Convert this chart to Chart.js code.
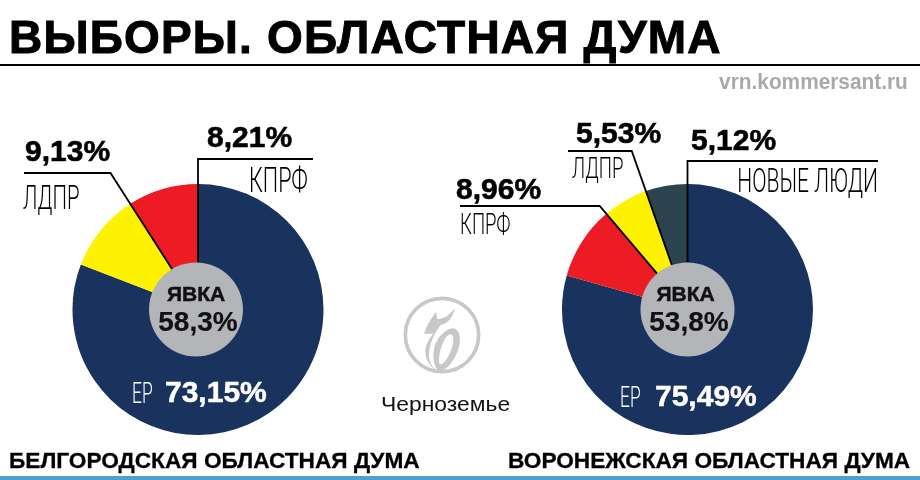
<!DOCTYPE html>
<html lang="ru">
<head>
<meta charset="utf-8">
<script src="https://cdn.jsdelivr.net/npm/chart.js@4"></script>
<style>
  html, body { margin: 0; padding: 0; background: #fff; }
  #page { position: relative; width: 920px; height: 480px; overflow: hidden; font-family: "Liberation Sans", sans-serif; color: #000; }
  #page canvas { position: absolute; top: 0; }
  .txt { position: absolute; white-space: nowrap; line-height: 1; }
  .title { left: 9px; top: 14px; font-size: 46px; font-weight: bold; -webkit-text-stroke: 1px #000; letter-spacing: 1.2px; }
  .rule { position: absolute; left: 0; top: 64px; width: 920px; height: 2px; background: #000; }
  .bar { position: absolute; left: 0; top: 476px; width: 920px; height: 4px; background: #4f9fd0; }
  .site { right: 12px; top: 71px; font-size: 22.5px; font-weight: bold; color: #a7a9ac; transform: scaleX(.926); transform-origin: right top; }
  .val { font-size: 30px; font-weight: bold; -webkit-text-stroke: .6px #000; }
  .name { font-family: "Roboto", sans-serif; font-weight: 300; font-size: 33px; transform-origin: left top; transform: scaleX(.62); }
  .name.r { transform-origin: right top; }
  .name.big { font-size: 35px; }
  .name.wide { font-size: 34px; }
  .name.small { font-size: 30px; }
  .cap { font-size: 22px; font-weight: bold; -webkit-text-stroke: .3px #000; transform-origin: left top; transform: scaleX(1.03); }
  .mid1, .mid2 { transform: translateX(-50%); color: #111; font-weight: bold; }
  .mid1 { font-size: 21px; -webkit-text-stroke: .5px #111; }
  .mid2 { font-size: 28px; -webkit-text-stroke: .2px #111; }
  .main { font-size: 30px; font-weight: bold; -webkit-text-stroke: .5px #fff; color: #fff; }
  .ep { font-family: "Roboto", sans-serif; font-weight: 300; font-size: 30px; color: #fff; transform-origin: left top; transform: scaleX(.58); }
  .logoText { left: 381px; top: 393px; font-size: 21px; color: #111; transform-origin: left top; transform: scaleX(1.09); }
  #logo { position: absolute; left: 400px; top: 295px; }
</style>
</head>
<body>
<div id="page">
  <canvas id="leftPie"></canvas>
  <canvas id="rightPie"></canvas>
  <div class="txt title">ВЫБОРЫ. ОБЛАСТНАЯ ДУМА</div>
  <div class="rule"></div>
  <div class="txt site">vrn.kommersant.ru</div>
  <svg id="logo" width="84" height="84" viewBox="0 0 252 252">
    <circle cx="126" cy="120" r="110" fill="none" stroke="#c6c8c9" stroke-width="11"/>
    <g fill="#c6c8c9">
      <path d="M72 116 C80 92 92 72 108 50 L112 72 C130 72 150 60 165 38 C160 65 142 88 122 90 C98 120 80 165 90 200 C95 216 108 226 124 232 C100 228 80 205 76 175 C74 155 84 135 100 116 Z"/>
      <path fill-rule="evenodd" d="M160 100 C185 104 186 150 165 186 C150 214 128 234 112 224 C96 205 96 160 112 135 C124 116 142 100 160 100 Z M150 118 C130 126 114 175 118 205 C124 218 150 186 158 150 C162 130 160 118 150 118 Z"/>
    </g>
  </svg>
  <div class="txt logoText">Черноземье</div>
  <div class="txt cap" style="left:9px;top:450px">БЕЛГОРОДСКАЯ ОБЛАСТНАЯ ДУМА</div>
  <div class="txt cap" style="left:508px;top:450px">ВОРОНЕЖСКАЯ ОБЛАСТНАЯ ДУМА</div>
  <div class="bar"></div>
</div>
<script>
// значения с картинки
const belgorodParties = ['ЕР', 'ЛДПР', 'КПРФ'];
const belgorodValues = [73.15, 9.13, 8.21];
const belgorodColors = ['#1a325e', '#fff200', '#ed1c24'];
const belgorodTurnout = 58.3;

const voronezhParties = ['ЕР', 'КПРФ', 'ЛДПР', 'НОВЫЕ ЛЮДИ'];
const voronezhValues = [75.49, 8.96, 5.53, 5.12];
const voronezhColors = ['#1a325e', '#ed1c24', '#fff200', '#2b4450'];
const voronezhTurnout = 53.8;

const turnoutLabel = 'ЯВКА';

const fmt = (v, digits) => v.toFixed(digits).replace('.', ',') + '%';

// серый круг в центре и выноски
const centerAndLeaders = {
  id: 'centerAndLeaders',
  afterDatasetsDraw(chart, args, opts) {
    const ctx = chart.ctx;
    const arcs = chart.getDatasetMeta(0).data;
    const cx = arcs[0].x, cy = arcs[0].y;
    ctx.save();
    ctx.strokeStyle = '#000';
    ctx.lineWidth = 1.8;
    ctx.lineJoin = 'miter';
    opts.leaders.forEach(l => {
      const a = arcs[l.arc].startAngle;
      const ux = Math.cos(a), uy = Math.sin(a);
      const t = (l.elbowY - cy) / uy;
      ctx.beginPath();
      ctx.moveTo(cx + ux * opts.holeR, cy + uy * opts.holeR);
      ctx.lineTo(cx + ux * t, l.elbowY);
      ctx.lineTo(l.endX - chart.canvas.offsetLeft, l.elbowY);
      ctx.stroke();
    });
    // круг чуть смещён относительно центра пирога, как в оригинале
    ctx.fillStyle = '#b3b5b8';
    ctx.beginPath();
    ctx.arc(cx + opts.holeShift, cy, opts.holeR, 0, Math.PI * 2);
    ctx.fill();
    ctx.restore();
  }
};

function makePie(id, left, width, parties, values, colors, holeShift, leaders) {
  const canvas = document.getElementById(id);
  canvas.style.left = left + 'px';
  canvas.style.width = width + 'px';
  canvas.style.height = '480px';
  canvas.width = width;
  canvas.height = 480;
  const side = (width - 251) / 2;
  return new Chart(canvas, {
    type: 'doughnut',
    data: {
      labels: parties,
      datasets: [{ data: values, backgroundColor: colors, borderWidth: 0 }]
    },
    plugins: [centerAndLeaders],
    options: {
      responsive: false,
      animation: false,
      devicePixelRatio: 1,
      cutout: 40,
      layout: { padding: { top: 184, bottom: 45, left: side, right: side } },
      plugins: {
        legend: { display: false },
        tooltip: { enabled: false },
        centerAndLeaders: { leaders, holeShift, holeR: 47 }
      }
    }
  });
}

makePie('leftPie', 0, 396, belgorodParties, belgorodValues, belgorodColors, -2, [
  { arc: 0, elbowY: 159, endX: 313 },
  { arc: 2, elbowY: 173, endX: 24 }
]);
makePie('rightPie', 454, 467, voronezhParties, voronezhValues, voronezhColors, 0, [
  { arc: 0, elbowY: 161, endX: 878 },
  { arc: 3, elbowY: 151, endX: 568 },
  { arc: 2, elbowY: 206, endX: 460 }
]);

// подписи
function addText(cls, text, left, top, right) {
  const el = document.createElement('div');
  el.className = 'txt ' + cls;
  el.textContent = text;
  if (right !== undefined) el.style.right = (920 - right) + 'px';
  else el.style.left = left + 'px';
  el.style.top = top + 'px';
  document.getElementById('page').appendChild(el);
}

addText('val', fmt(belgorodValues[2], 2), 207, 122);
addText('name r big', belgorodParties[2], undefined, 163, 308);
addText('val', fmt(belgorodValues[1], 2), 25, 136);
addText('name', belgorodParties[1], 23, 181);
addText('mid1', turnoutLabel, 196, 283);
addText('mid2', fmt(belgorodTurnout, 1), 198, 308);
addText('ep', belgorodParties[0], 132, 378);
addText('main', fmt(belgorodValues[0], 2), 165, 377);

addText('val', fmt(voronezhValues[3], 2), 691, 125);
addText('name r wide', voronezhParties[3], undefined, 163, 878);
addText('val', fmt(voronezhValues[2], 2), 576, 118);
addText('name small', voronezhParties[2], 572, 153);
addText('val', fmt(voronezhValues[1], 2), 456, 174);
addText('name small', voronezhParties[1], 460, 209);
addText('mid1', turnoutLabel, 685.5, 283);
addText('mid2', fmt(voronezhTurnout, 1), 689, 308);
addText('ep', voronezhParties[0], 620, 382);
addText('main', fmt(voronezhValues[0], 2), 655, 381);
</script>
</body>
</html>
